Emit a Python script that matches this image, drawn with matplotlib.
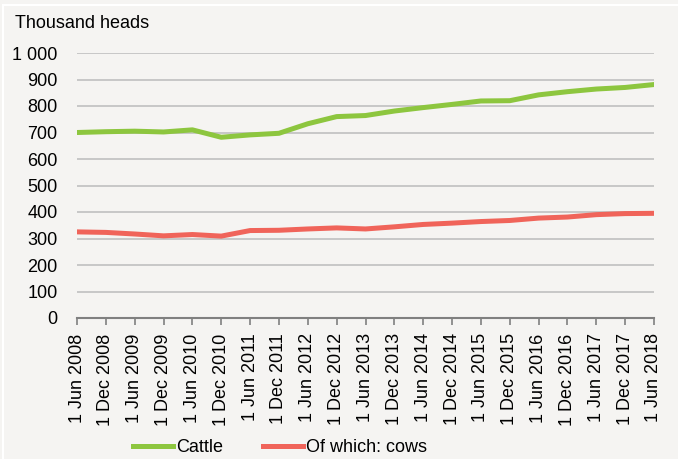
import matplotlib
matplotlib.use("Agg")
import matplotlib.pyplot as plt
from matplotlib.lines import Line2D

plt.rcParams['font.family'] = ['Liberation Sans', 'DejaVu Sans']
fs = 13

dates = ["1 Jun 2008", "1 Dec 2008", "1 Jun 2009", "1 Dec 2009", "1 Jun 2010",
         "1 Dec 2010", "1 Jun 2011", "1 Dec 2011", "1 Jun 2012", "1 Dec 2012",
         "1 Jun 2013", "1 Dec 2013", "1 Jun 2014", "1 Dec 2014", "1 Jun 2015",
         "1 Dec 2015", "1 Jun 2016", "1 Dec 2016", "1 Jun 2017", "1 Dec 2017",
         "1 Jun 2018"]
cattle = [700, 703, 705, 702, 710, 682, 691, 697, 733, 760, 764,
          781, 794, 806, 819, 820, 842, 854, 864, 870, 881]
cows = [325, 323, 317, 310, 315, 309, 330, 331, 336, 340, 336,
        344, 353, 358, 364, 368, 377, 381, 390, 394, 395]
yticks = [0, 100, 200, 300, 400, 500, 600, 700, 800, 900, 1000]
ylabels = ["0", "100", "200", "300", "400", "500", "600", "700", "800", "900", "1 000"]

bg = "#f5f4f2"
green = "#8dc63f"
red = "#f0645a"

fig = plt.figure(figsize=(6.78, 4.59), dpi=100, facecolor=bg)
ax = fig.add_axes([77/678, 1-318/459, (654-77)/678, (318-53)/459], facecolor=bg)

x = list(range(len(dates)))
ax.plot(x, cattle, color=green, lw=3.6, solid_capstyle='round', zorder=3)
ax.plot(x, cows, color=red, lw=3.6, solid_capstyle='round', zorder=3)

ax.set_xlim(0, len(dates)-1)
ax.set_ylim(0, 1000)
ax.set_yticks(yticks)
ax.set_yticklabels(ylabels, fontsize=fs)
ax.set_xticks(x)
ax.set_xticklabels(dates, rotation=90, fontsize=fs)
ax.tick_params(axis='y', length=0, pad=14)
ax.tick_params(axis='x', length=5, width=1.2, color="#808080", pad=6, direction='out')
for s in ['top', 'right', 'left']:
    ax.spines[s].set_visible(False)
ax.spines['bottom'].set_color("#808080")
ax.spines['bottom'].set_linewidth(1.5)
ax.grid(axis='y', color="#c0c0c0", lw=1.2)
ax.set_axisbelow(True)

fig.text(15/678, 1-23/459, "Thousand heads", fontsize=fs, va='center', ha='left')

handles = [Line2D([], [], color=green, lw=3.6), Line2D([], [], color=red, lw=3.6)]
fig.legend(handles, ["Cattle", "Of which: cows"], loc='center left',
           bbox_to_anchor=(133/678, 1-448/459), ncol=2, frameon=False,
           fontsize=fs, handlelength=2.2, handletextpad=0.2, columnspacing=2.2,
           borderaxespad=0, borderpad=0)

fig.add_artist(Line2D([3/678, 1], [1-5/459, 1-5/459], color='white', lw=1.5, transform=fig.transFigure))
fig.add_artist(Line2D([3/678, 3/678], [0, 1-5/459], color='white', lw=1.5, transform=fig.transFigure))

fig.savefig("out.png", dpi=100, facecolor=bg)
